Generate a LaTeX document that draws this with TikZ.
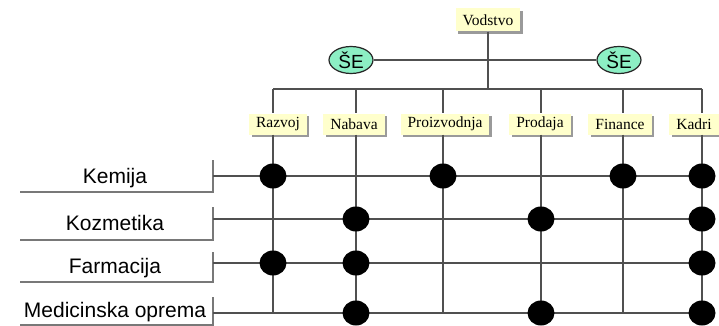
\documentclass[tikz,border=0pt]{standalone}
\usepackage{fontspec}
\setmainfont{Liberation Serif}
\newfontfamily\arialf{Liberation Sans}
\usetikzlibrary{shapes.geometric,shadows}
\definecolor{boxyellow}{HTML}{FFFFCC}
\definecolor{shadowgray}{HTML}{9A9A9A}
\definecolor{mint}{HTML}{8CEFC4}
\definecolor{linegray}{HTML}{505050}
\definecolor{bracketgray}{HTML}{787878}
\begin{document}
\begin{tikzpicture}[x=1pt,y=-1pt,
  unitbox/.style={fill=boxyellow, inner xsep=7pt, inner ysep=0pt, minimum height=21pt,
    font=\fontsize{15.5}{16}\selectfont,
    drop shadow={shadow xshift=2.5pt, shadow yshift=-2.5pt, fill=shadowgray, opacity=1}},
  seell/.style={ellipse, draw=black!85, line width=1.2pt, fill=mint, minimum width=44pt,
    minimum height=27pt, inner sep=0pt, font=\arialf\fontsize{19}{19}\selectfont},
  gridline/.style={draw=linegray, line width=1.3pt},
  bracketline/.style={draw=bracketgray, line width=1.6pt},
  dotnode/.style={ellipse, fill=black, minimum width=27pt, minimum height=25pt, inner sep=0pt},
  rowlab/.style={font=\arialf\fontsize{21}{21}\selectfont, anchor=base}]
\fill[white] (0,0) rectangle (719,326);
\useasboundingbox (0,0) rectangle (719,326);

% top structure
\node[unitbox, minimum height=23pt] (vod) at (488,20) {Vodstvo};
\coordinate (busL) at (273,89);
\coordinate (busR) at (702,89);
\node[seell] (se1) at (351,60) {ŠE};
\node[seell] (se2) at (619,60) {ŠE};

% column boxes
\foreach \nm/\bx/\cx/\txt in {raz/278/273/Razvoj, nab/354/356/Nabava, pro/445/443/Proizvodnja,
    prd/540/541/Prodaja, fin/620/623/Finance, kad/694/702/Kadri}{
  \node[unitbox] (\nm) at (\bx,124) {\txt};
  \coordinate (\nm-top) at (\cx,89);
  \coordinate (\nm-bot) at (\cx,313);
}

% row labels and brackets
\foreach \nm/\ry/\bl/\tp/\ul/\txt in {kem/176/183/160/192/Kemija, koz/219/230/207/240/Kozmetika,
    far/263/273/252/282/Farmacija, med/313/317/297/325/Medicinska oprema}{
  \node[rowlab] (\nm) at (115,\bl) {\txt};
  \coordinate (\nm-a) at (213,\tp);
  \coordinate (\nm-b) at (213,\ul);
  \coordinate (\nm-c) at (20,\ul);
  \coordinate (\nm-l) at (213,\ry);
  \coordinate (\nm-r) at (702,\ry);
  \draw[bracketline] (\nm-a) -- (\nm-b) -- (\nm-c);
}

% connectors
\draw[gridline] (se1) -- (se2);
\draw[gridline] (vod.south) -- (vod.south |- busL);
\draw[gridline] (busL) -- (busR);
\foreach \nm in {raz,nab,pro,prd,fin,kad}{
  \draw[gridline] (\nm-top) -- (\nm-top |- \nm.north);
  \draw[gridline] (\nm-top |- \nm.south) -- (\nm-bot);
}
\foreach \nm in {kem,koz,far,med}{
  \draw[gridline] (\nm-l) -- (\nm-r);
}

% dots
\foreach \r/\c in {kem/raz, kem/pro, kem/fin, kem/kad,
    koz/nab, koz/prd, koz/kad,
    far/raz, far/nab, far/kad,
    med/nab, med/prd, med/kad}{
  \node[dotnode] (dot-\r-\c) at (\c-top |- \r-l) {};
}
\end{tikzpicture}
\end{document}
